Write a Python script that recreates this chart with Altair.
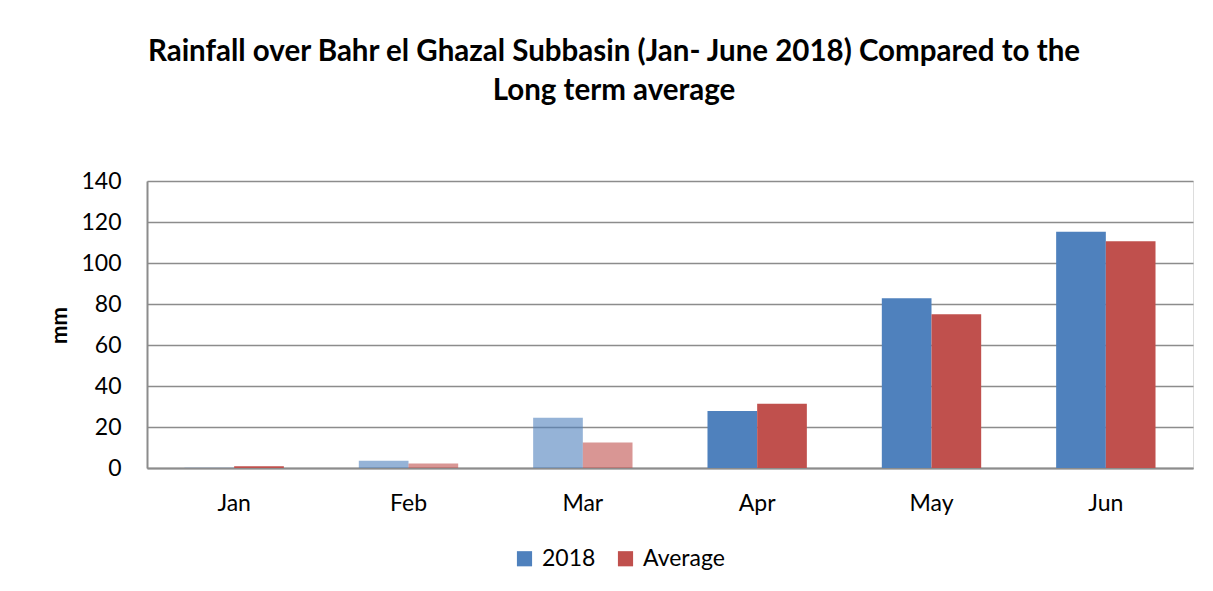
import altair as alt
import pandas as pd

months = ["Jan", "Feb", "Mar", "Apr", "May", "Jun"]
rain_2018 = [0.3, 3.5, 24.5, 27.8, 82.8, 115.3]
rain_avg = [0.9, 2.2, 12.4, 31.3, 75.0, 110.6]
series = ["2018", "Average"]
series_colors = ["#4F81BD", "#C0504D"]
# bar shading (Jan-Mar bars appear faded in the reference)
shade_2018 = [0.3, 0.6, 0.6, 1.0, 1.0, 1.0]
shade_avg = [1.0, 0.6, 0.6, 1.0, 1.0, 1.0]

rows = []
for i, m in enumerate(months):
    rows.append({"Month": m, "Series": series[0], "mm": rain_2018[i], "shade": shade_2018[i]})
    rows.append({"Month": m, "Series": series[1], "mm": rain_avg[i], "shade": shade_avg[i]})
df = pd.DataFrame(rows)

FONT = "Lato"

chart = alt.Chart(df).mark_bar().encode(
    x=alt.X("Month:N", sort=months,
            scale=alt.Scale(paddingInner=0.43, paddingOuter=0.215),
            axis=alt.Axis(title=None, labelAngle=0, labelFontSize=23, labelFont=FONT,
                          labelColor="black", ticks=False, labelPadding=24,
                          domainColor="#8c8c8c", domainWidth=2, grid=False)),
    xOffset=alt.XOffset("Series:N", sort=series, scale=alt.Scale(paddingInner=0, paddingOuter=0)),
    y=alt.Y("mm:Q", scale=alt.Scale(domain=[0, 140]),
            axis=alt.Axis(values=[0, 20, 40, 60, 80, 100, 120, 140], title="mm",
                          titleFont=FONT, titleFontSize=22, titleFontWeight="bold",
                          titleColor="black", titleX=-88, titleY=144, titleAngle=-90,
                          titleAlign="center", titleBaseline="middle",
                          labelFontSize=23, labelFont=FONT, labelColor="black",
                          ticks=False, labelPadding=26,
                          domainColor="#8c8c8c", domainWidth=2,
                          gridColor="#8c8c8c", gridWidth=1.5)),
    color=alt.Color("Series:N", sort=series,
                    scale=alt.Scale(domain=series, range=series_colors),
                    legend=alt.Legend(title=None, orient="none", legendX=366, legendY=366,
                                      direction="horizontal", symbolType="square",
                                      symbolSize=230, symbolOpacity=1, symbolStrokeWidth=0,
                                      labelFontSize=23, labelFont=FONT, labelColor="black",
                                      columnPadding=18, labelOffset=6)),
    opacity=alt.Opacity("shade:Q", scale=None, legend=None),
).properties(
    width=1046,
    height=287,
    autosize=alt.AutoSizeParams(type="none"),
    padding={"left": 139, "top": 173, "right": 12, "bottom": 115},
    title=alt.Title(
        ["Rainfall over Bahr el Ghazal Subbasin (Jan- June 2018) Compared to the",
         "Long term average"],
        font=FONT, fontSize=29.5, fontWeight="bold", color="black",
        anchor="middle", dx=-56, offset=64, lineHeight=39,
    ),
).configure_view(stroke=None).configure(background="white")

chart.save("out.html", embed_options={"renderer": "svg", "actions": False})
